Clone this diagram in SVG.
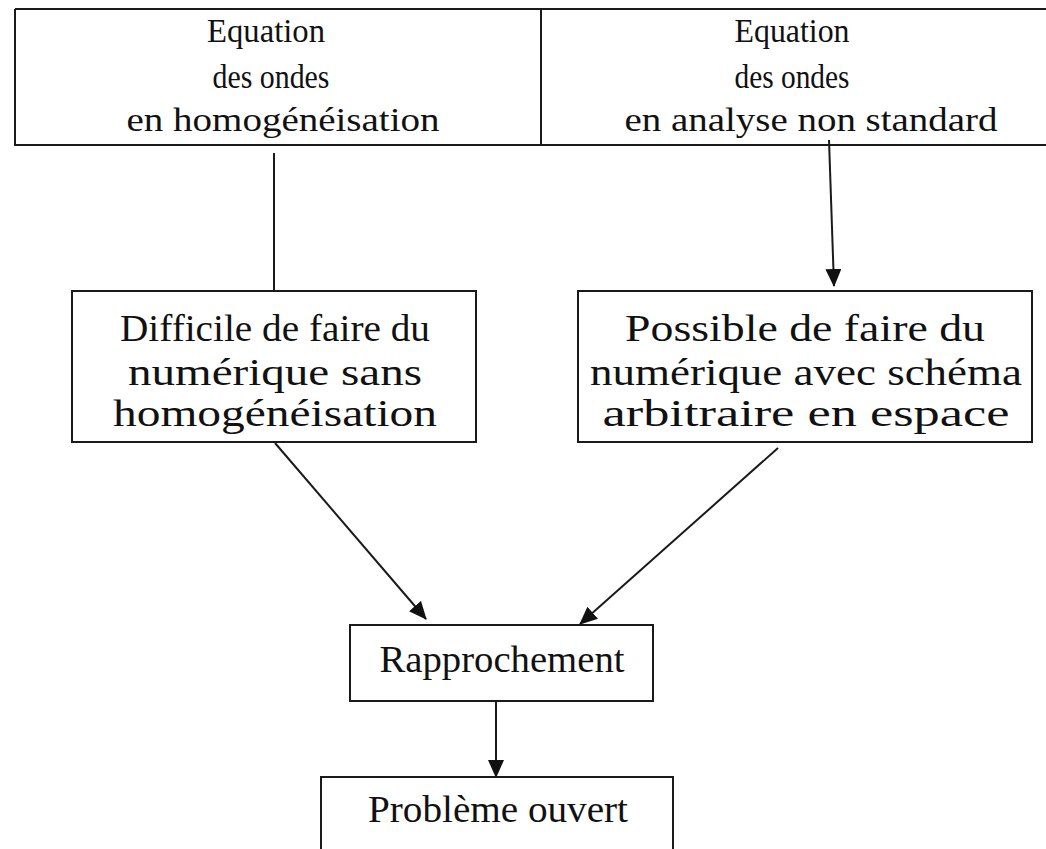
<svg xmlns="http://www.w3.org/2000/svg" width="1046" height="849" viewBox="0 0 1046 849">
<style>
  .box { fill: #fff; stroke: #1a1a1a; stroke-width: 2; }
  .t { font-family: "Liberation Serif", "Times New Roman", serif; fill: #111; text-anchor: middle; }
  .top { font-size: 34px; }
  .mid { font-size: 38px; }
  .conn { stroke: #1a1a1a; stroke-width: 2; fill: none; }
</style>
<defs>
  <marker id="ahb" markerWidth="18" markerHeight="16" refX="17" refY="8" orient="auto" markerUnits="userSpaceOnUse" viewBox="0 0 18 16">
    <path d="M0,0 L18,8 L0,16 z" fill="#111"/>
  </marker>
</defs>
<rect width="1046" height="849" fill="#fff"/>
<g id="node-top">
  <path class="box" d="M15,9 H1046 M15,9 V145 H1046 M541,9 V145"/>
  <text class="t top" x="266" y="42" textLength="118" lengthAdjust="spacingAndGlyphs">Equation</text>
  <text class="t top" x="271" y="88" textLength="117" lengthAdjust="spacingAndGlyphs">des ondes</text>
  <text class="t top" x="283" y="131" textLength="313" lengthAdjust="spacingAndGlyphs">en homogénéisation</text>
  <text class="t top" x="792" y="42" textLength="115" lengthAdjust="spacingAndGlyphs">Equation</text>
  <text class="t top" x="792" y="88" textLength="115" lengthAdjust="spacingAndGlyphs">des ondes</text>
  <text class="t top" x="811" y="131" textLength="373" lengthAdjust="spacingAndGlyphs">en analyse non standard</text>
</g>
<g id="node-difficile">
  <rect class="box" x="72" y="291" width="404" height="151"/>
  <text class="t mid" x="275" y="341" textLength="310" lengthAdjust="spacingAndGlyphs">Difficile de faire du</text>
  <text class="t mid" x="275" y="385" textLength="294" lengthAdjust="spacingAndGlyphs">numérique sans</text>
  <text class="t mid" x="275" y="426" textLength="324" lengthAdjust="spacingAndGlyphs">homogénéisation</text>
</g>
<g id="node-possible">
  <rect class="box" x="578" y="291" width="454" height="151"/>
  <text class="t mid" x="805" y="341" textLength="360" lengthAdjust="spacingAndGlyphs">Possible de faire du</text>
  <text class="t mid" x="806" y="385" textLength="432" lengthAdjust="spacingAndGlyphs">numérique avec schéma</text>
  <text class="t mid" x="806" y="426" textLength="407" lengthAdjust="spacingAndGlyphs">arbitraire en espace</text>
</g>
<g id="node-rapprochement">
  <rect class="box" x="350" y="625" width="303" height="76"/>
  <text class="t mid" x="502" y="672" textLength="245" lengthAdjust="spacingAndGlyphs">Rapprochement</text>
</g>
<g id="node-probleme">
  <path class="box" d="M321,860 V777 H673 V860"/>
  <text class="t mid" x="498" y="822" textLength="260" lengthAdjust="spacingAndGlyphs">Problème ouvert</text>
</g>
<g id="connectors">
  <line class="conn" x1="274" y1="153" x2="274" y2="291"/>
  <line class="conn" x1="829" y1="140" x2="834" y2="286" marker-end="url(#ahb)"/>
  <line class="conn" x1="275" y1="443" x2="426" y2="619" marker-end="url(#ahb)"/>
  <line class="conn" x1="778" y1="448" x2="580" y2="624" marker-end="url(#ahb)"/>
  <line class="conn" x1="496" y1="701" x2="496" y2="777" marker-end="url(#ahb)"/>
</g>
</svg>
